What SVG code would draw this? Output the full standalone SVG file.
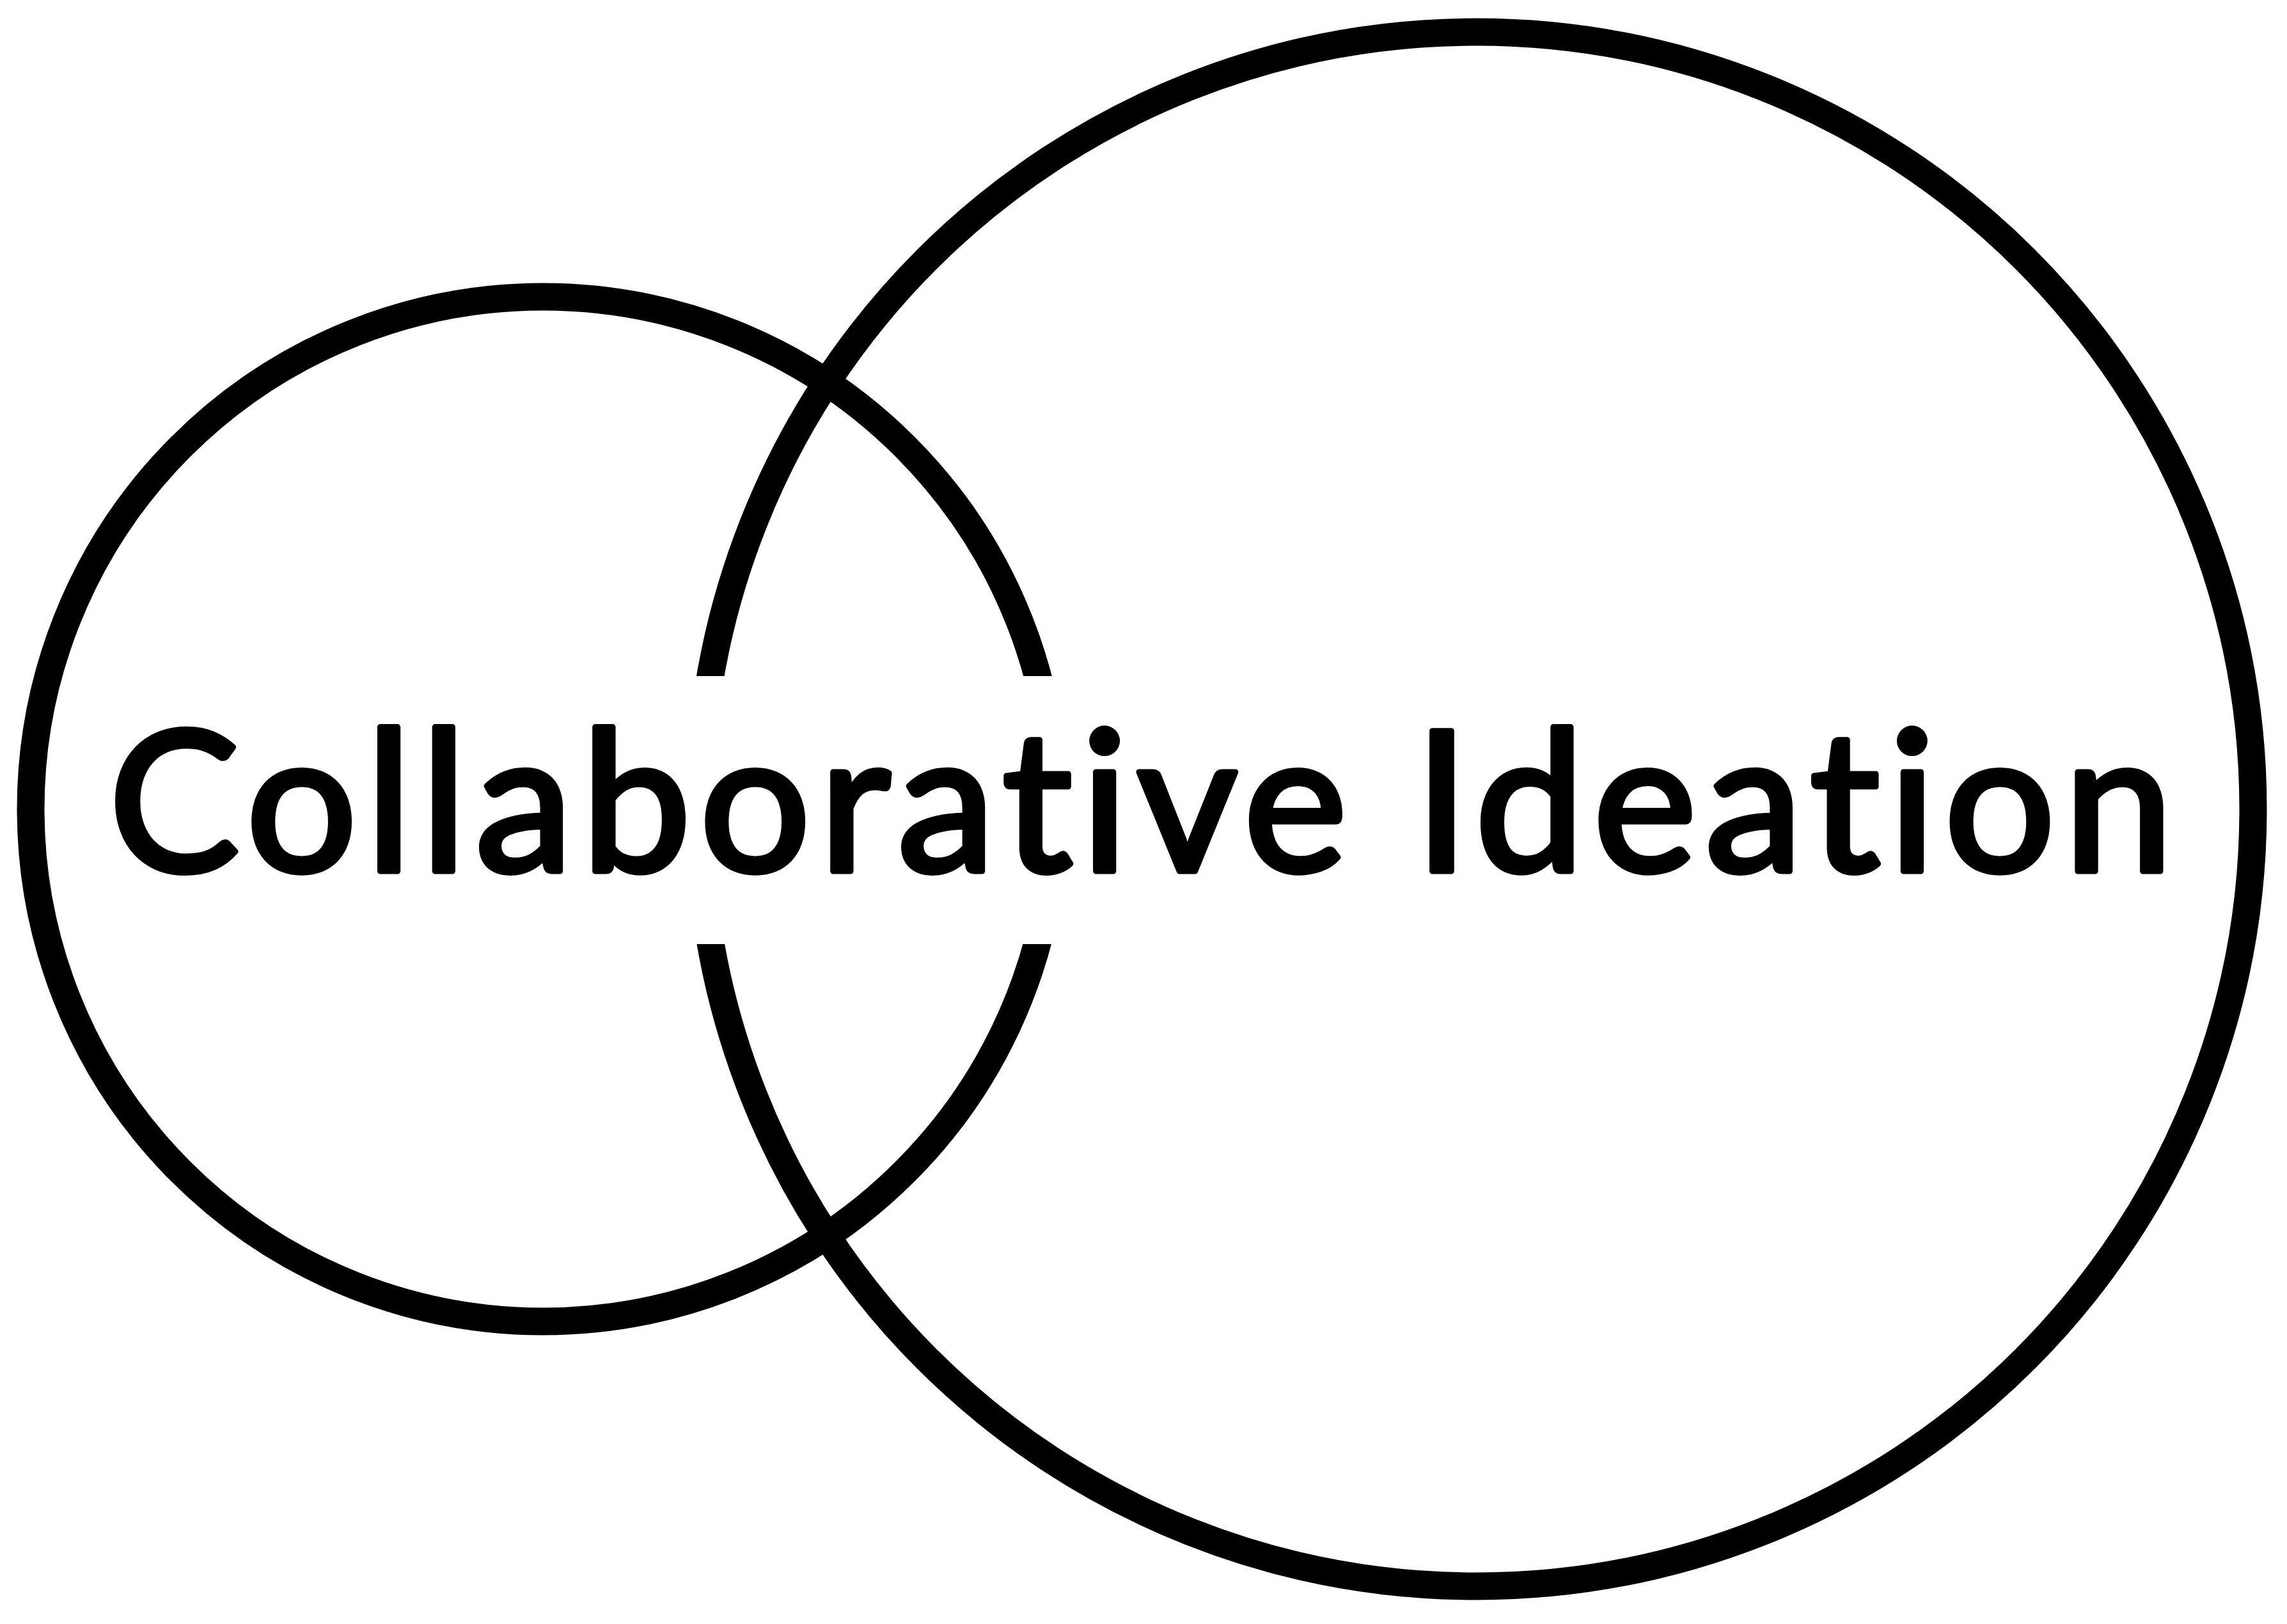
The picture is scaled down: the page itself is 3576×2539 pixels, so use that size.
<svg xmlns="http://www.w3.org/2000/svg" width="3576" height="2539" viewBox="0 0 3576 2539">
  <style>
    .ring { fill: none; stroke: #000; stroke-width: 43; }
    .title { font-family: Lato, "Open Sans", "Liberation Sans", sans-serif; font-size: 306px; fill: #000; stroke: #000; stroke-width: 9; stroke-linejoin: round; font-variant-ligatures: none; font-feature-settings: "liga" 0, "clig" 0; }
  </style>
  <defs>
    <mask id="gap" maskUnits="userSpaceOnUse" x="0" y="0" width="3576" height="2539">
      <rect x="0" y="0" width="3576" height="2539" fill="#fff"/>
      <rect x="1000" y="1057" width="780" height="419" fill="#000"/>
    </mask>
  </defs>
  <rect width="3576" height="2539" fill="#fff"/>
  <g id="connectors"></g>
  <g id="circles" mask="url(#gap)">
    <circle id="small-circle" class="ring" cx="849" cy="1265" r="801"/>
    <circle id="big-circle" class="ring" cx="2308" cy="1265" r="1215"/>
  </g>
  <g id="label">
    <text class="title" x="170" y="1362" textLength="3228" lengthAdjust="spacing">Collaborative Ideation</text>
  </g>
</svg>
